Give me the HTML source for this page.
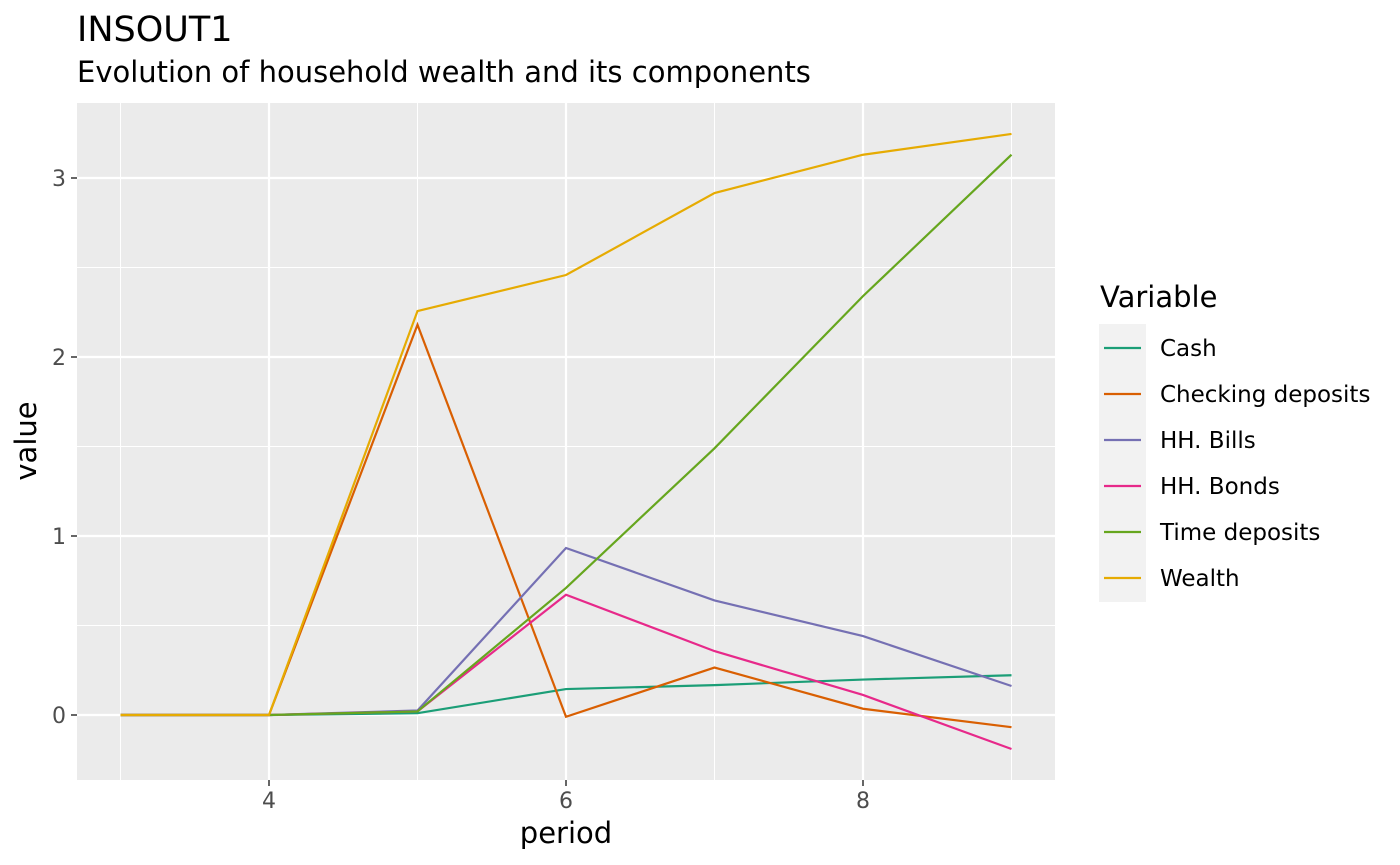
<!DOCTYPE html>
<html><head><meta charset="utf-8"><style>
body{margin:0;background:#fff;}
svg{display:block;font-family:"DejaVu Sans","Liberation Sans",sans-serif;}
</style></head><body>
<svg id="chart" width="1400" height="865">
<text x="77" y="41" font-size="35" fill="#000">INSOUT1</text>
<text x="77" y="82" font-size="29" fill="#000">Evolution of household wealth and its components</text>
<rect x="77" y="103" width="978" height="677" fill="#ebebeb"/>
<g id="grid"></g>
<g id="lines"></g>
<g id="axes"></g>
<text x="566" y="843" font-size="29" text-anchor="middle">period</text>
<text transform="translate(36,441) rotate(-90)" font-size="29" text-anchor="middle">value</text>
<text x="1100" y="307" font-size="29">Variable</text>
<rect x="1099" y="324" width="47" height="278" fill="#f2f2f2"/>
<g id="legend"></g>
</svg>
<script>
const periods=[3,4,5,6,7,8,9];
const seriesNames=["Cash","Checking deposits","HH. Bills","HH. Bonds","Time deposits","Wealth"];
const cash=[0,0,0.01,0.145,0.167,0.198,0.222];
const checking=[0,0,2.18,-0.01,0.265,0.035,-0.068];
const bills=[0,0,0.025,0.933,0.64,0.441,0.162];
const bonds=[0,0,0.02,0.672,0.357,0.112,-0.19];
const timeDep=[0,0,0.02,0.71,1.49,2.34,3.13];
const wealth=[0,0,2.257,2.458,2.916,3.13,3.246];
const xTicks=[4,6,8];
const yTicks=[0,1,2,3];
const colors=["#1B9E77","#D95F02","#7570B3","#E7298A","#66A61E","#E6AB02"];
const allSeries=[cash,checking,bills,bonds,timeDep,wealth];
const X=p=>269+(p-4)*148.5;
const Y=v=>715-v*179;
const NS="http://www.w3.org/2000/svg";
function mk(tag,attrs,parent){const e=document.createElementNS(NS,tag);for(const k in attrs)e.setAttribute(k,attrs[k]);parent.appendChild(e);return e;}
const grid=document.getElementById('grid'),lines=document.getElementById('lines'),axes=document.getElementById('axes'),legend=document.getElementById('legend');
[3,5,7,9].forEach(p=>{const l=mk('line',{x1:X(p),x2:X(p),y1:103,y2:780,stroke:'#fff','stroke-width':1},grid);});
[-0.5,0.5,1.5,2.5,3.5].forEach(v=>{if(Y(v)<103||Y(v)>780)return;const l=mk('line',{x1:77,x2:1055,y1:Y(v),y2:Y(v),stroke:'#fff','stroke-width':1},grid);});
xTicks.forEach(p=>{const l=mk('line',{x1:X(p),x2:X(p),y1:103,y2:780,stroke:'#fff','stroke-width':2.2},grid);
const t=mk('line',{x1:X(p),x2:X(p),y1:780,y2:786,stroke:'#333','stroke-width':1.5},axes);
const tx=mk('text',{x:X(p),y:808,'font-size':22,fill:'#4d4d4d','text-anchor':'middle'},axes);tx.textContent=p;});
yTicks.forEach(v=>{const l=mk('line',{x1:77,x2:1055,y1:Y(v),y2:Y(v),stroke:'#fff','stroke-width':2.2},grid);
const t=mk('line',{x1:71,x2:77,y1:Y(v),y2:Y(v),stroke:'#333','stroke-width':1.5},axes);
const tx=mk('text',{x:66,y:Y(v)+8,'font-size':22,fill:'#4d4d4d','text-anchor':'end'},axes);tx.textContent=v;});
allSeries.forEach((s,i)=>{const pts=s.map((v,j)=>X(periods[j])+','+Y(v)).join(' ');
const pl=mk('polyline',{points:pts,fill:'none',stroke:colors[i],'stroke-width':2.2},lines);


const y=348+i*46;
const k=mk('line',{x1:1104,x2:1141,y1:y,y2:y,stroke:colors[i],'stroke-width':2.2},legend);


const t=mk('text',{x:1160,y:y+8,'font-size':23,fill:'#000'},legend);t.textContent=seriesNames[i];

});
</script>
</body></html>
